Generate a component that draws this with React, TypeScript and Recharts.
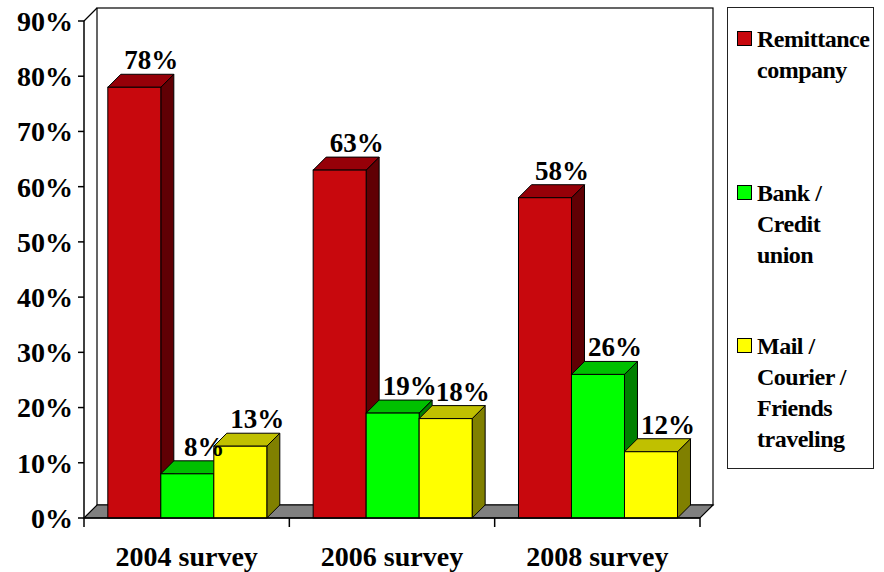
import React from "react";
import { BarChart, Bar, XAxis, YAxis, LabelList } from "recharts";

const categories = ["2004 survey", "2006 survey", "2008 survey"];
const remittance = [78, 63, 58];
const bankCredit = [8, 19, 26];
const mailCourier = [13, 18, 12];
const yTicks = [0, 10, 20, 30, 40, 50, 60, 70, 80, 90];

const seriesNames = ["Remittance company", "Bank / Credit union", "Mail / Courier / Friends traveling"];
const legendLines = [
  ["Remittance", "company"],
  ["Bank /", "Credit", "union"],
  ["Mail /", "Courier /", "Friends", "traveling"],
];

const data = categories.map((c, i) => ({
  category: c,
  remittance: remittance[i],
  bank: bankCredit[i],
  mail: mailCourier[i],
}));

const FONT = "Liberation Serif";
const CHART_W = 720;
const CHART_H = 572;
const LEFT = 84;
const TOP = 21;
const RIGHT = 700;
const BOTTOM = 518;
const DEPTH = 13;
const HALF_BAND = (RIGHT - LEFT) / categories.length / 2;

const colors = [
  { front: "#C8080D", top: "#960008", side: "#600004" },
  { front: "#00FF00", top: "#00C000", side: "#008000" },
  { front: "#FFFF00", top: "#C0C000", side: "#808000" },
];

const make3D = (c: { front: string; top: string; side: string }) => (props: any) => {
  const { x, y, width: w, height: h } = props;
  if (h == null || w == null) return null;
  const d = DEPTH;
  return (
    <g>
      <polygon
        points={`${x + w},${y} ${x + w + d},${y - d} ${x + w + d},${y + h - d} ${x + w},${y + h}`}
        fill={c.side}
        stroke="#000"
        strokeWidth={1}
      />
      <polygon
        points={`${x},${y} ${x + d},${y - d} ${x + w + d},${y - d} ${x + w},${y}`}
        fill={c.top}
        stroke="#000"
        strokeWidth={1}
      />
      <rect x={x} y={y} width={w} height={h} fill={c.front} stroke="#000" strokeWidth={1} />
    </g>
  );
};

const renderLabel = (props: any) => {
  const { x, y, width, value } = props;
  return (
    <text
      x={x + width / 2 + 17}
      y={y - 18}
      textAnchor="middle"
      fontFamily={FONT}
      fontWeight="bold"
      fontSize={27}
      fill="#000"
    >
      {value}%
    </text>
  );
};

const XTick = (props: any) => {
  const { x, index, payload } = props;
  const last = index === categories.length - 1;
  return (
    <g>
      <line x1={x - HALF_BAND} y1={BOTTOM} x2={x - HALF_BAND} y2={BOTTOM + 9} stroke="#000" strokeWidth={1.5} />
      {last && (
        <line x1={x + HALF_BAND} y1={BOTTOM} x2={x + HALF_BAND} y2={BOTTOM + 9} stroke="#000" strokeWidth={1.5} />
      )}
      <text x={x} y={BOTTOM + 48} textAnchor="middle" fontFamily={FONT} fontWeight="bold" fontSize={28} fill="#000">
        {payload.value}
      </text>
    </g>
  );
};

function Walls() {
  const d = DEPTH;
  return (
    <svg width={884} height={572} style={{ position: "absolute", left: 0, top: 0 }}>
      <rect x={LEFT + d} y={TOP - d} width={RIGHT - LEFT} height={BOTTOM - TOP} fill="#fff" stroke="#000" strokeWidth={1.2} />
      <line x1={LEFT} y1={TOP} x2={LEFT + d} y2={TOP - d} stroke="#000" strokeWidth={1.2} />
      <polygon
        points={`${LEFT},${BOTTOM} ${LEFT + d},${BOTTOM - d} ${RIGHT + d},${BOTTOM - d} ${RIGHT},${BOTTOM}`}
        fill="#808080"
        stroke="#000"
        strokeWidth={1.2}
      />
    </svg>
  );
}

function Legend3D() {
  return (
    <div
      style={{
        position: "absolute",
        left: 727,
        top: 7,
        width: 147,
        height: 462,
        border: "1.5px solid #222",
        boxSizing: "border-box",
        fontFamily: FONT,
        fontWeight: "bold",
        fontSize: 24,
        lineHeight: "31px",
        letterSpacing: "-0.5px",
      }}
    >
      {seriesNames.map((name, i) => (
        <div key={name} style={{ position: "absolute", left: 9, top: 16 + i * 153.5, display: "flex" }}>
          <div
            style={{
              width: 15,
              height: 15,
              marginTop: 7,
              marginRight: 5,
              background: colors[i].front,
              border: "1px solid #000",
              boxSizing: "border-box",
              flex: "none",
            }}
          />
          <div>
            {legendLines[i].map((l) => (
              <div key={l} style={{ whiteSpace: "nowrap" }}>
                {l}
              </div>
            ))}
          </div>
        </div>
      ))}
    </div>
  );
}

export default function App() {
  return (
    <div style={{ position: "absolute", left: 0, top: 0, width: 884, height: 572, background: "#fff" }}>
      <Walls />
      <div style={{ position: "absolute", left: 0, top: 0 }}>
        <BarChart
          width={CHART_W}
          height={CHART_H}
          data={data}
          margin={{ top: TOP, right: CHART_W - RIGHT, bottom: 0, left: 0 }}
          barCategoryGap="11.6%"
          barGap={0}
          style={{ fontFamily: FONT }}
        >
          <XAxis
            dataKey="category"
            height={CHART_H - BOTTOM}
            axisLine={{ stroke: "#000", strokeWidth: 1.5 }}
            tickLine={false}
            tick={<XTick />}
            interval={0}
          />
          <YAxis
            width={LEFT}
            domain={[0, 90]}
            ticks={yTicks}
            tickFormatter={(v: number) => `${v}%`}
            axisLine={{ stroke: "#000", strokeWidth: 1.5 }}
            tickLine={{ stroke: "#000", strokeWidth: 1.5 }}
            tickSize={6}
            tickMargin={5}
            tick={{ fontFamily: FONT, fontWeight: "bold", fontSize: 28, fill: "#000" }}
          />
          <Bar dataKey="remittance" name={seriesNames[0]} shape={make3D(colors[0])} isAnimationActive={false}>
            <LabelList dataKey="remittance" content={renderLabel} />
          </Bar>
          <Bar dataKey="bank" name={seriesNames[1]} shape={make3D(colors[1])} isAnimationActive={false}>
            <LabelList dataKey="bank" content={renderLabel} />
          </Bar>
          <Bar dataKey="mail" name={seriesNames[2]} shape={make3D(colors[2])} isAnimationActive={false}>
            <LabelList dataKey="mail" content={renderLabel} />
          </Bar>
        </BarChart>
      </div>
      <Legend3D />
    </div>
  );
}
